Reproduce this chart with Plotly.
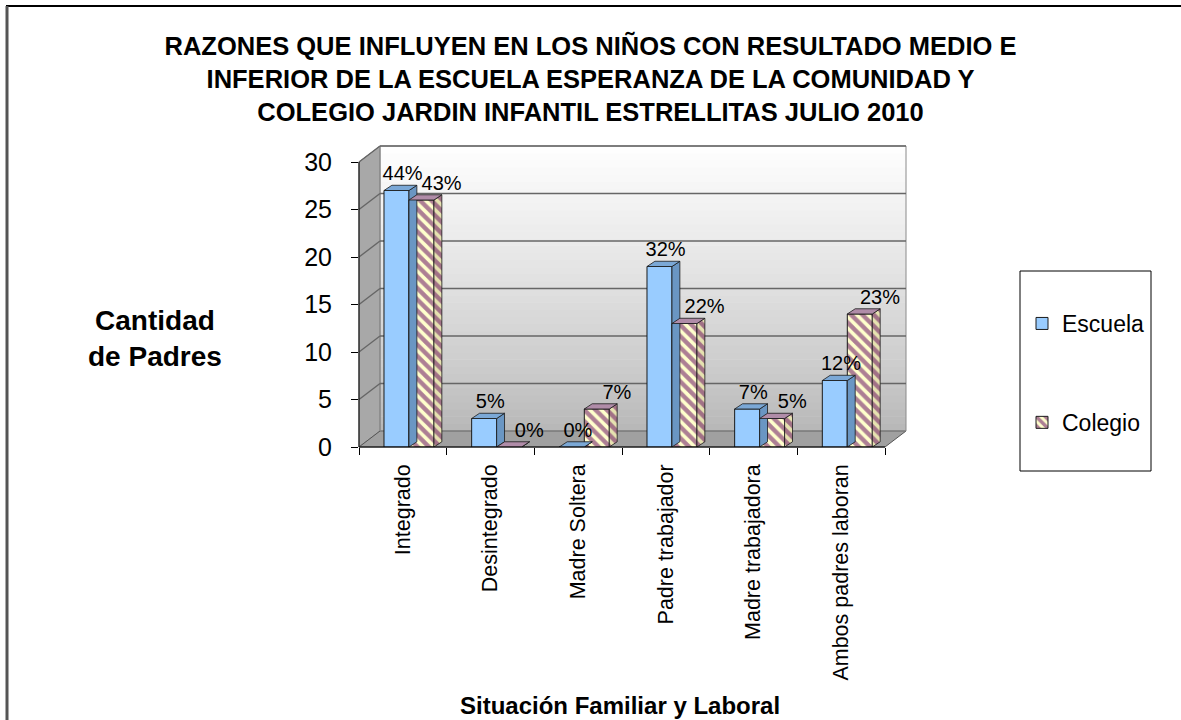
import plotly.graph_objects as go

categorias = ["Integrado", "Desintegrado", "Madre Soltera", "Padre trabajador",
              "Madre trabajadora", "Ambos padres laboran"]
escuela = [27, 3, 0, 19, 4, 7]
colegio = [26, 0, 4, 13, 3, 14]
escuela_pct = ["44%", "5%", "0%", "32%", "7%", "12%"]
colegio_pct = ["43%", "0%", "7%", "22%", "5%", "23%"]
y_ticks = [0, 5, 10, 15, 20, 25, 30]

FONT = "Liberation Sans, Arial, sans-serif"
AZUL, AZUL_LADO, AZUL_TOPE = "#99CCFF", "#6A96C3", "#7BA8D6"
MORADO, CREMA = "#5C005C", "#FFFFCC"

# geometry of the pseudo-3D bars (data units)
w = 0.285       # bar width
shift = 0.07    # pair offset from category centre
ddx, ddy = 0.09, 0.55   # bar depth

xs = list(range(len(categorias)))
fig = go.Figure()


def caras(vals, left_off):
    """top + side faces of each bar, as closed polygons (None separated)"""
    tx, ty, sx, sy = [], [], [], []
    for i, v in zip(xs, vals):
        x0 = i + left_off
        x1 = x0 + w
        tx += [x0, x1, x1 + ddx, x0 + ddx, x0, None]
        ty += [v, v, v + ddy, v + ddy, v, None]
        sx += [x1, x1, x1 + ddx, x1 + ddx, x1, None]
        sy += [0, v, v + ddy, ddy, 0, None]
    return tx, ty, sx, sy


# front faces
fig.add_trace(go.Bar(
    x=xs, y=escuela, name="Escuela", width=w, offset=shift - w,
    marker=dict(color=AZUL, line=dict(color="#1a1a1a", width=1)),
    legendgroup="a"))
fig.add_trace(go.Bar(
    x=xs, y=colegio, name="Colegio", width=w, offset=shift,
    marker=dict(color=CREMA, line=dict(color="#1a1a1a", width=1),
                pattern=dict(shape="\\", fgcolor=MORADO, bgcolor=CREMA,
                             size=8, solidity=0.55)),
    legendgroup="b"))

# depth faces
for vals, off, lado, tope, patt in [
        (escuela, shift - w, AZUL_LADO, AZUL_TOPE, None),
        (colegio, shift, CREMA, "#B08CA8", "\\")]:
    tx, ty, sx, sy = caras(vals, off)
    kw = {}
    if patt:
        kw["fillpattern"] = dict(shape=patt, fgcolor=MORADO, bgcolor="#E6E2B0",
                                 size=8, solidity=0.55)
    fig.add_trace(go.Scatter(x=sx, y=sy, mode="lines", fill="toself",
                             fillcolor=lado, line=dict(color="#1a1a1a", width=0.8),
                             hoverinfo="skip", showlegend=False, **kw))
    fig.add_trace(go.Scatter(x=tx, y=ty, mode="lines", fill="toself",
                             fillcolor=tope, line=dict(color="#1a1a1a", width=0.8),
                             hoverinfo="skip", showlegend=False))

# data labels
fig.add_trace(go.Scatter(
    x=[i + shift - w / 2 + 0.07 for i in xs], y=[v + ddy for v in escuela],
    text=escuela_pct, mode="text", textposition="top center",
    textfont=dict(size=20, color="black", family=FONT),
    hoverinfo="skip", showlegend=False, cliponaxis=False))
fig.add_trace(go.Scatter(
    x=[i + shift + w / 2 + 0.23 for i in xs], y=[v + ddy for v in colegio],
    text=colegio_pct, mode="text", textposition="top center",
    textfont=dict(size=20, color="black", family=FONT),
    hoverinfo="skip", showlegend=False, cliponaxis=False))

# --- 3D walls (paper coords) ---
W_PX, H_PX = 526, 285
ox, oy = 21 / W_PX, 16 / H_PX   # wall depth
shapes = []
n = 40
for k in range(n):
    y0 = oy + (1.0) * k / n
    y1 = oy + (1.0) * (k + 1) / n
    g = int(182 + (255 - 182) * ((k + 0.5) / n) ** 0.8)
    shapes.append(dict(type="rect", xref="paper", yref="paper", layer="below",
                       x0=ox, x1=1 + ox, y0=y0, y1=y1 + 0.002,
                       fillcolor=f"rgb({g},{g},{g})", line=dict(width=0)))
# side wall
shapes.append(dict(type="path", xref="paper", yref="paper", layer="below",
                   path=f"M 0,0 L {ox},{oy} L {ox},{1 + oy} L 0,1 Z",
                   fillcolor="#A8A8A8", line=dict(color="#7a7a7a", width=1)))
# floor
shapes.append(dict(type="path", xref="paper", yref="paper", layer="below",
                   path=f"M 0,0 L 1,0 L {1 + ox},{oy} L {ox},{oy} Z",
                   fillcolor="#A0A0A0", line=dict(color="#555555", width=1)))
# wall outline + gridlines
shapes.append(dict(type="rect", xref="paper", yref="paper", layer="below",
                   x0=ox, x1=1 + ox, y0=oy, y1=1 + oy,
                   fillcolor="rgba(0,0,0,0)", line=dict(color="#8a8a8a", width=1)))
for t in y_ticks[1:]:
    yy = t / 30 + oy
    shapes.append(dict(type="line", xref="paper", yref="paper", layer="below",
                       x0=ox, x1=1 + ox, y0=yy, y1=yy,
                       line=dict(color="#666666", width=1.4)))
    shapes.append(dict(type="line", xref="paper", yref="paper", layer="below",
                       x0=0, x1=ox, y0=t / 30, y1=yy,
                       line=dict(color="#666666", width=1.4)))
# axes lines
shapes.append(dict(type="line", xref="paper", yref="paper",
                   x0=0, x1=0, y0=0, y1=1, line=dict(color="black", width=1)))
shapes.append(dict(type="line", xref="paper", yref="paper",
                   x0=0, x1=1, y0=0, y1=0, line=dict(color="black", width=1)))
# legend box
shapes.append(dict(type="rect", xref="paper", yref="paper",
                   x0=(1020 - 359) / W_PX, x1=(1151 - 359) / W_PX,
                   y0=(447 - 471) / H_PX, y1=(447 - 271) / H_PX,
                   fillcolor="white", line=dict(color="black", width=1), layer="below"))
# outer frame (top and left)
shapes.append(dict(type="line", xref="paper", yref="paper",
                   x0=(6 - 359) / W_PX, x1=(1181 - 359) / W_PX,
                   y0=(447 - 6) / H_PX, y1=(447 - 6) / H_PX,
                   line=dict(color="black", width=2)))
shapes.append(dict(type="line", xref="paper", yref="paper",
                   x0=(7 - 359) / W_PX, x1=(7 - 359) / W_PX,
                   y0=(447 - 6) / H_PX, y1=(447 - 720) / H_PX,
                   line=dict(color="#555555", width=3)))

fig.update_layout(
    width=1181, height=720,
    margin=dict(l=359, r=296, t=162, b=273),
    paper_bgcolor="white", plot_bgcolor="rgba(0,0,0,0)",
    barmode="overlay",
    font=dict(family=FONT, color="black"),
    title=dict(
        text="<b>RAZONES QUE INFLUYEN EN LOS NIÑOS CON RESULTADO MEDIO E<br>"
             "INFERIOR DE LA ESCUELA ESPERANZA DE LA COMUNIDAD Y<br>"
             "COLEGIO JARDIN INFANTIL ESTRELLITAS JULIO 2010</b>",
        x=0.5, xref="container", xanchor="center",
        y=0.924, yanchor="top", font=dict(size=25.5, family=FONT)),
    xaxis=dict(range=[-0.5, 5.5], tickvals=xs, ticktext=categorias,
               tickangle=-90, ticks="", showgrid=False, zeroline=False,
               tickfont=dict(size=21.5), fixedrange=True, ticklabelstandoff=12,
               minor=dict(tick0=-0.5, dtick=1, ticks="outside", ticklen=7,
                          tickcolor="black", showgrid=False)),
    yaxis=dict(range=[0, 30], tickvals=y_ticks, ticks="outside", ticklen=7,
               tickcolor="black", showgrid=False, zeroline=False,
               tickfont=dict(size=25), fixedrange=True, ticklabelstandoff=14),
    legend=dict(x=(1022 - 359) / W_PX, y=(447 - 302) / H_PX,
                xanchor="left", yanchor="top", bgcolor="rgba(0,0,0,0)",
                font=dict(size=23), tracegroupgap=66,
                itemwidth=30, traceorder="grouped"),
    shapes=shapes,
    annotations=[
        dict(text="<b>Cantidad<br>de Padres</b>", xref="paper", yref="paper",
             x=(155 - 359) / W_PX, y=(447 - 338) / H_PX,
             xanchor="center", yanchor="middle",
             showarrow=False, font=dict(size=28), align="center"),
        dict(text="<b>Situación Familiar y Laboral</b>", xref="paper", yref="paper",
             x=(620 - 359) / W_PX, y=(447 - 705) / H_PX,
             xanchor="center", yanchor="middle",
             showarrow=False, font=dict(size=24)),
    ],
)

fig.write_html("out.html", config={"displayModeBar": False},
               post_script="document.body.style.margin='0';")
